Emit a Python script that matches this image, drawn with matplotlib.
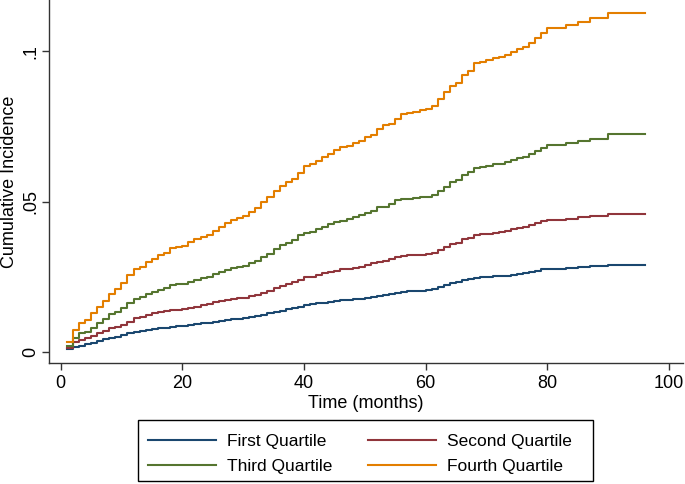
import matplotlib
matplotlib.use('Agg')
import matplotlib.pyplot as plt
from matplotlib.patches import Rectangle

plt.rcParams['font.family'] = ['Liberation Sans', 'DejaVu Sans']

# tempo (meses) em que cada degrau começa
meses = list(range(1, 97))

q1 = [0.0010, 0.0019, 0.0022, 0.0027, 0.0032, 0.0038, 0.0043, 0.0048, 0.0052, 0.0057,
      0.0063, 0.0066, 0.0071, 0.0074, 0.0076, 0.0080, 0.0082, 0.0085, 0.0087, 0.0088,
      0.0091, 0.0093, 0.0096, 0.0098, 0.0102, 0.0104, 0.0107, 0.0110, 0.0112, 0.0115,
      0.0117, 0.0120, 0.0124, 0.0129, 0.0134, 0.0138, 0.0143, 0.0146, 0.0151, 0.0157,
      0.0160, 0.0163, 0.0165, 0.0168, 0.0170, 0.0173, 0.0174, 0.0176, 0.0178, 0.0181,
      0.0185, 0.0188, 0.0190, 0.0194, 0.0198, 0.0201, 0.0203, 0.0204, 0.0205, 0.0206,
      0.0209, 0.0216, 0.0223, 0.0229, 0.0232, 0.0240, 0.0243, 0.0248, 0.0250, 0.0251,
      0.0252, 0.0253, 0.0254, 0.0258, 0.0260, 0.0262, 0.0268, 0.0271, 0.0276, 0.0278,
      0.0278, 0.0278, 0.0281, 0.0281, 0.0283, 0.0283, 0.0286, 0.0286, 0.0286, 0.0290,
      0.0290, 0.0290, 0.0290, 0.0290, 0.0290, 0.0290]

q2 = [0.0013, 0.0035, 0.0041, 0.0046, 0.0054, 0.0063, 0.0071, 0.0080, 0.0085, 0.0091,
      0.0102, 0.0113, 0.0118, 0.0124, 0.0129, 0.0133, 0.0137, 0.0140, 0.0140, 0.0143,
      0.0146, 0.0151, 0.0157, 0.0160, 0.0166, 0.0170, 0.0174, 0.0177, 0.0179, 0.0181,
      0.0187, 0.0190, 0.0198, 0.0205, 0.0212, 0.0221, 0.0227, 0.0232, 0.0240, 0.0249,
      0.0251, 0.0257, 0.0262, 0.0268, 0.0271, 0.0276, 0.0278, 0.0281, 0.0284, 0.0290,
      0.0295, 0.0301, 0.0303, 0.0309, 0.0317, 0.0321, 0.0322, 0.0323, 0.0324, 0.0326,
      0.0329, 0.0340, 0.0349, 0.0359, 0.0364, 0.0375, 0.0380, 0.0388, 0.0392, 0.0394,
      0.0397, 0.0400, 0.0404, 0.0408, 0.0412, 0.0415, 0.0423, 0.0430, 0.0437, 0.0439,
      0.0439, 0.0439, 0.0443, 0.0443, 0.0448, 0.0448, 0.0453, 0.0453, 0.0453, 0.0459,
      0.0459, 0.0459, 0.0459, 0.0459, 0.0459, 0.0459]

q3 = [0.0021, 0.0046, 0.0063, 0.0066, 0.0080, 0.0096, 0.0110, 0.0127, 0.0133, 0.0146,
      0.0163, 0.0177, 0.0185, 0.0193, 0.0200, 0.0207, 0.0212, 0.0222, 0.0226, 0.0227,
      0.0234, 0.0240, 0.0246, 0.0251, 0.0259, 0.0268, 0.0273, 0.0281, 0.0284, 0.0288,
      0.0295, 0.0302, 0.0315, 0.0326, 0.0342, 0.0356, 0.0364, 0.0373, 0.0389, 0.0395,
      0.0400, 0.0408, 0.0417, 0.0425, 0.0434, 0.0437, 0.0442, 0.0448, 0.0456, 0.0461,
      0.0470, 0.0481, 0.0483, 0.0492, 0.0506, 0.0509, 0.0510, 0.0512, 0.0515, 0.0517,
      0.0522, 0.0536, 0.0550, 0.0564, 0.0572, 0.0589, 0.0598, 0.0611, 0.0616, 0.0620,
      0.0624, 0.0627, 0.0631, 0.0638, 0.0644, 0.0649, 0.0657, 0.0668, 0.0677, 0.0688,
      0.0688, 0.0688, 0.0694, 0.0694, 0.0702, 0.0702, 0.0710, 0.0710, 0.0710, 0.0724,
      0.0724, 0.0724, 0.0724, 0.0724, 0.0724, 0.0724]

q4 = [0.0035, 0.0074, 0.0098, 0.0107, 0.0130, 0.0151, 0.0170, 0.0194, 0.0209, 0.0231,
      0.0256, 0.0276, 0.0284, 0.0300, 0.0311, 0.0323, 0.0331, 0.0345, 0.0350, 0.0354,
      0.0365, 0.0375, 0.0384, 0.0389, 0.0403, 0.0417, 0.0428, 0.0439, 0.0447, 0.0453,
      0.0465, 0.0478, 0.0500, 0.0517, 0.0537, 0.0553, 0.0564, 0.0574, 0.0594, 0.0620,
      0.0625, 0.0635, 0.0647, 0.0658, 0.0672, 0.0683, 0.0686, 0.0694, 0.0703, 0.0714,
      0.0721, 0.0740, 0.0754, 0.0757, 0.0774, 0.0791, 0.0796, 0.0799, 0.0804, 0.0809,
      0.0818, 0.0840, 0.0863, 0.0884, 0.0896, 0.0921, 0.0935, 0.0960, 0.0965, 0.0970,
      0.0976, 0.0981, 0.0987, 0.0998, 0.1006, 0.1013, 0.1028, 0.1043, 0.1059, 0.1076,
      0.1076, 0.1076, 0.1087, 0.1087, 0.1098, 0.1098, 0.1111, 0.1111, 0.1111, 0.1128,
      0.1128, 0.1128, 0.1128, 0.1128, 0.1128, 0.1128]

rotulos = ['First Quartile', 'Second Quartile', 'Third Quartile', 'Fourth Quartile']
cores = ['#1a476f', '#90353b', '#55752f', '#e37e00']
series = [q1, q2, q3, q4]

W, H = 685, 484
fig = plt.figure(figsize=(W / 100, H / 100), dpi=100)
ax = fig.add_axes([49 / W, 1 - 363 / H, 634 / W, 363 / H])

linhas = []
for vals, cor, rot in zip(series, cores, rotulos):
	l, = ax.step(meses, vals, where='post', color=cor, lw=1.5, label=rot)
	linhas.append(l)

ax.set_xlim(-1.9, 102.3)
ax.set_ylim(-0.00355, 0.117)
ax.set_xticks([0, 20, 40, 60, 80, 100])
ax.set_yticks([0, 0.05, 0.1])
ax.set_yticklabels(['0', '.05', '.1'], rotation=90, va='center')
ax.tick_params(labelsize=13, length=5, width=1, color='#333333')
ax.tick_params(axis='y', pad=2)
for s in ['top', 'right']:
	ax.spines[s].set_visible(False)
for s in ['left', 'bottom']:
	ax.spines[s].set_color('#333333')
	ax.spines[s].set_linewidth(1)

ax.set_xlabel('Time (months)', fontsize=13, labelpad=2)
ax.set_ylabel('Cumulative Incidence', fontsize=13)
ax.yaxis.set_label_coords(-0.049, 0.5)

# moldura da legenda desenhada à parte (como no Stata)
fig.patches.append(Rectangle((138 / W, 1 - 481 / H), 455 / W, 61 / H,
		transform=fig.transFigure, fill=False, edgecolor='black', lw=1))

# ordem por colunas: First/Third na esquerda, Second/Fourth na direita
ordem = [0, 2, 1, 3]
leg = fig.legend([linhas[i] for i in ordem], [rotulos[i] for i in ordem],
		ncol=2, loc='upper left', bbox_to_anchor=(132.5 / W, 1 - 417.8 / H),
		fontsize=12.5, frameon=False,
		handlelength=3.9, handletextpad=0.63, columnspacing=2.07,
		borderpad=0.4, labelspacing=0.6)

fig.savefig('out.png', dpi=100)
